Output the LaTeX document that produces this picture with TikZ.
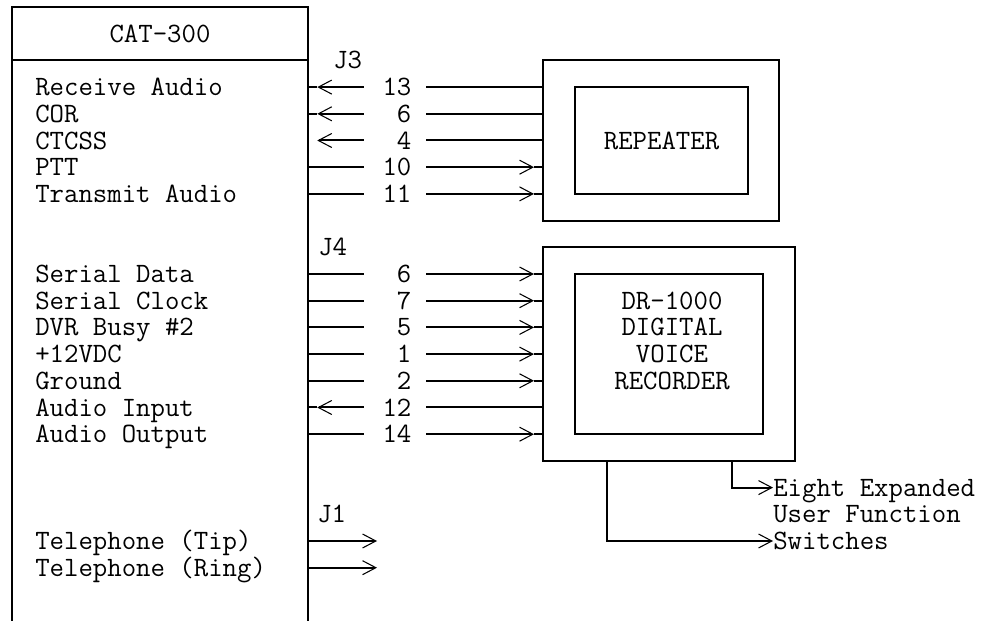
\documentclass[tikz,border=0pt]{standalone}
\usetikzlibrary{arrows.meta, positioning, calc}
\newcommand{\asciifont}{\fontsize{21}{20}\selectfont\ttfamily}

\begin{document}
\begin{tikzpicture}[x=0.75pt, y=-20.025pt,
    >={Straight Barb[length=10pt, width=10.5pt, line width=0.8pt]},
    wire/.style={line width=1.5pt},
    txt/.style={font=\asciifont, inner sep=0pt, text height=12.8pt, text depth=0pt},
    lbl/.style={txt, anchor=west},
    pin/.style={txt, text width=24.5pt, align=right, inner xsep=11pt},
    unit/.style={wire, draw, inner sep=0pt}]
  \useasboundingbox (0,-0.262) rectangle (994,22.959);

  % CAT-300 controller, open at the bottom
  \node[unit, txt, minimum width=222pt, minimum height=40.05pt] (cattitle) at (160,1) {CAT-300};
  \node[anchor=north, inner sep=0pt, minimum width=222pt, minimum height=419.7pt] (cat) at (cattitle.south) {};
  \draw[wire] (cat.south west) -- (cat.north west) (cat.north east) -- (cat.south east);
  \foreach \r/\t in {3/Receive Audio, 4/COR, 5/CTCSS, 6/PTT, 7/Transmit Audio,
      10/Serial Data, 11/Serial Clock, 12/DVR Busy \#2, 13/+12VDC, 14/Ground,
      15/Audio Input, 16/Audio Output, 20/Telephone (Tip), 21/Telephone (Ring)}
    \node[lbl] (sig\r) at (35,\r) {\t};

  \node[lbl] (j3) at (333,2) {J3};
  \node[lbl] (j4) at (318,9) {J4};
  \node[lbl] (j1) at (317,19) {J1};

  % repeater and voice recorder
  \node[unit, minimum width=177pt, minimum height=120.15pt] (rep) at (661,5) {};
  \node[unit, txt, minimum width=129.75pt, minimum height=80.1pt] (repin) at (661.5,5) {REPEATER};
  \node[unit, minimum width=189pt, minimum height=160.2pt] (dvr) at (669,13) {};
  \node[unit, minimum width=141pt, minimum height=120.15pt] (dvrin) at (669,13) {};
  \foreach \r/\t in {11/DR-1000, 12/DIGITAL, 13/VOICE, 14/RECORDER}
    \node[txt] (dvrtxt\r) at (672,\r) {\t};

  % J3
  \foreach \p/\r in {13/3, 6/4, 4/5, 10/6, 11/7}
    \node[pin] (j3p\p) at (395,\r) {\p};
  \foreach \p in {13, 6}
    \draw[wire] (cat.east |- j3p\p) -- ++(9,0) edge[<-] (j3p\p);
  \draw[wire, <-] ($(cat.east |- j3p4)+(9,0)$) -- (j3p4);
  \foreach \p in {13, 6, 4}
    \draw[wire] (j3p\p) -- (rep.west |- j3p\p);
  \foreach \p in {10, 11} {
    \draw[wire] (cat.east |- j3p\p) -- (j3p\p);
    \draw[wire] (rep.west |- j3p\p) -- ++(-8,0) edge[<-] (j3p\p);
  }

  % J4
  \foreach \p/\r in {6/10, 7/11, 5/12, 1/13, 2/14, 12/15, 14/16}
    \node[pin] (j4p\p) at (395,\r) {\p};
  \foreach \p in {6, 7, 5, 1, 2, 14} {
    \draw[wire] (cat.east |- j4p\p) -- (j4p\p);
    \draw[wire] (dvr.west |- j4p\p) -- ++(-8,0) edge[<-] (j4p\p);
  }
  \draw[wire] (cat.east |- j4p12) -- ++(9,0) edge[<-] (j4p12);
  \draw[wire] (j4p12) -- (dvr.west |- j4p12);

  % J1
  \coordinate (tip) at (377,20);
  \coordinate (ring) at (377,21);
  \draw[wire, ->] (cat.east |- tip) -- (tip);
  \draw[wire, ->] (cat.east |- ring) -- (ring);

  % user function switches
  \node[lbl] (ufA) at (773,18) {Eight Expanded};
  \node[lbl] (ufB) at (773,19) {User Function};
  \node[lbl] (ufC) at (773,20) {Switches};
  \draw[wire, ->] ($(dvr.south)+(63,0)$) |- (ufA);
  \draw[wire, ->] ($(dvr.south)+(-62,0)$) |- (ufC);
\end{tikzpicture}
\end{document}
